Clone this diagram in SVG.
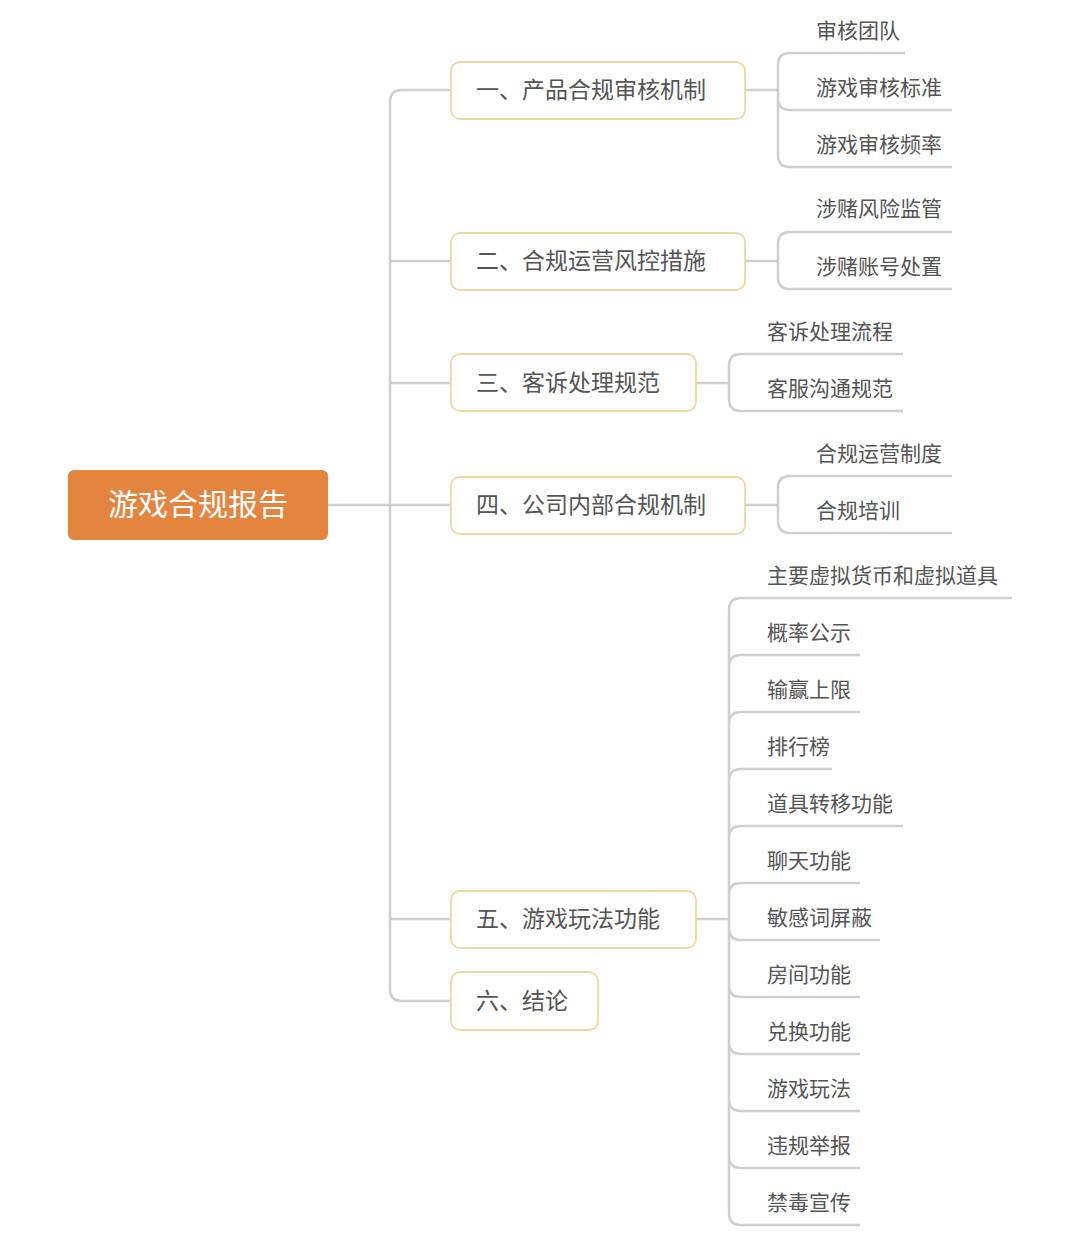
<svg xmlns="http://www.w3.org/2000/svg" width="1070" height="1257" viewBox="0 0 1070 1257">
<style>
text{font-family:"Noto Sans CJK SC","Liberation Sans",sans-serif;fill:#555}
.n{font-size:23px}
.l{font-size:21px}
.box{fill:#fff;stroke:#f0d8a2;stroke-width:1.8}
#connectors path{fill:none;stroke:#cfcfcf;stroke-width:2.5}
</style>
<rect width="1070" height="1257" fill="#fff"/>
<g id="connectors">
<path d="M328,505H451"/>
<path d="M451,90H402Q390,90 390,102V989Q390,1001 402,1001H451"/>
<path d="M390,261H451M390,383H451M390,919H451"/>
<path d="M745,90H778M778,90V65Q778,53 790,53H905M778,90V98Q778,110 790,110H952M778,90V155Q778,167 790,167H952"/>
<path d="M745,261H778M778,261V244Q778,232 790,232H952M778,261V277Q778,289 790,289H952"/>
<path d="M696,383H729M729,383V366Q729,354 741,354H903M729,383V399Q729,411 741,411H903"/>
<path d="M745,505H778M778,505V488Q778,476 790,476H952M778,505V521Q778,533 790,533H952"/>
<path d="M696,919H729M729,919V610Q729,598 741,598H1012M729,919V667Q729,655 741,655H860M729,919V724Q729,712 741,712H860M729,919V781Q729,769 741,769H832M729,919V838Q729,826 741,826H903M729,919V895Q729,883 741,883H860M729,919V928Q729,940 741,940H880M729,919V985Q729,997 741,997H860M729,919V1042Q729,1054 741,1054H860M729,919V1099Q729,1111 741,1111H860M729,919V1156Q729,1168 741,1168H860M729,919V1213Q729,1225 741,1225H860"/>
</g>
<g id="root"><rect x="68" y="470" width="260" height="70" rx="6" fill="#e3843f"/><text x="198" y="515" text-anchor="middle" font-size="30" style="fill:#fff">游戏合规报告</text></g>
<g id="n1"><rect class="box" x="451" y="62" width="294" height="57" rx="9"/><text class="n" x="476" y="98">一、产品合规审核机制</text></g>
<g id="n2"><rect class="box" x="451" y="233" width="294" height="57" rx="9"/><text class="n" x="476" y="269">二、合规运营风控措施</text></g>
<g id="n3"><rect class="box" x="451" y="354" width="245" height="57" rx="9"/><text class="n" x="476" y="391">三、客诉处理规范</text></g>
<g id="n4"><rect class="box" x="451" y="477" width="294" height="57" rx="9"/><text class="n" x="476" y="513">四、公司内部合规机制</text></g>
<g id="n5"><rect class="box" x="451" y="891" width="245" height="57" rx="9"/><text class="n" x="476" y="927">五、游戏玩法功能</text></g>
<g id="n6"><rect class="box" x="451" y="972" width="147" height="58" rx="9"/><text class="n" x="476" y="1009">六、结论</text></g>
<g id="leaves1">
<text class="l" x="816" y="38">审核团队</text>
<text class="l" x="816" y="95">游戏审核标准</text>
<text class="l" x="816" y="152">游戏审核频率</text>
<text class="l" x="816" y="216">涉赌风险监管</text>
<text class="l" x="816" y="274">涉赌账号处置</text>
<text class="l" x="767" y="339">客诉处理流程</text>
<text class="l" x="767" y="396">客服沟通规范</text>
<text class="l" x="816" y="461">合规运营制度</text>
<text class="l" x="816" y="518">合规培训</text>
</g>
<g id="leaves5">
<text class="l" x="767" y="583">主要虚拟货币和虚拟道具</text>
<text class="l" x="767" y="640">概率公示</text>
<text class="l" x="767" y="697">输赢上限</text>
<text class="l" x="767" y="754">排行榜</text>
<text class="l" x="767" y="811">道具转移功能</text>
<text class="l" x="767" y="868">聊天功能</text>
<text class="l" x="767" y="925">敏感词屏蔽</text>
<text class="l" x="767" y="982">房间功能</text>
<text class="l" x="767" y="1039">兑换功能</text>
<text class="l" x="767" y="1096">游戏玩法</text>
<text class="l" x="767" y="1153">违规举报</text>
<text class="l" x="767" y="1210">禁毒宣传</text>
</g>
</svg>
